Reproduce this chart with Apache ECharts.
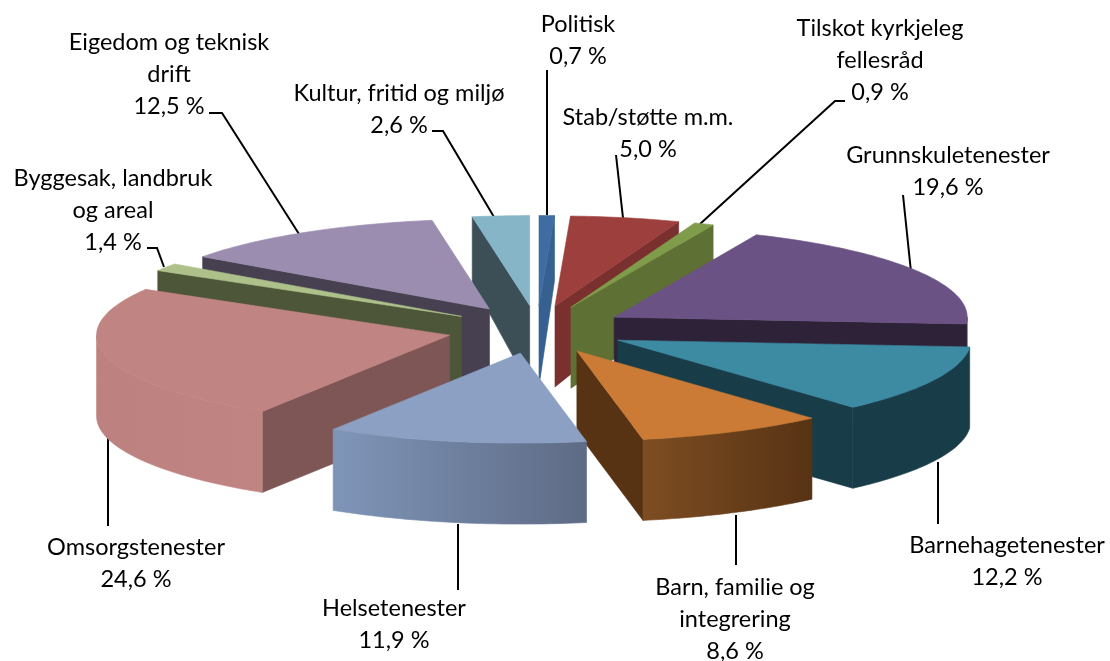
<!DOCTYPE html>
<html><head><meta charset="utf-8">
<style>html,body{margin:0;padding:0;background:#fff}#c{width:1110px;height:661px}</style>
<script src="https://cdn.jsdelivr.net/npm/echarts@6/dist/echarts.min.js"></script>
</head><body><div id="c"></div>
<script>
// Data (clockwise from 12 o'clock)
const categories = ['Politisk','Stab/støtte m.m.','Tilskot kyrkjeleg fellesråd','Grunnskuletenester','Barnehagetenester','Barn, familie og integrering','Helsetenester','Omsorgstenester','Byggesak, landbruk og areal','Eigedom og teknisk drift','Kultur, fritid og miljø'];
const values = [0.7,5.0,0.9,19.6,12.2,8.6,11.9,24.6,1.4,12.5,2.6];
// Painter's order (far slices first)
const drawOrder = [10,0,1,2,3,4,9,8,7,5,6];
// Styling
const topColors  = ['#3f6da3','#9c3f3d','#7f9c4a','#6a5284','#3d8aa3','#cb7b36','#8ba0c3','#c08482','#aec18a','#9b8db0','#85b5c6'];
const cutColors  = ['#35608f','#7a302f','#5f7034','#2d2238','#193d48','#573314','#5d6a85','#7e5655','#4e5639','#464050','#3c4f56'];
const wallLeft   = ['#3f6da3','#7a302f','#5f7034','#2d2238','#193d48','#7e4d22','#7f95b8','#bd8280','#4e5639','#464050','#3c4f56'];
const wallRight  = ['#35608f','#7a302f','#5f7034','#2d2238','#193d48','#573314','#5e6b85','#c08482','#4e5639','#464050','#3c4f56'];
// Label lines: {lines, x, y(centre of first line)}
const labelLayout = [
 {lines:['Politisk'],x:578,y:24},
 {lines:['Stab/støtte m.m.'],x:648,y:117},
 {lines:['Tilskot kyrkjeleg','fellesråd'],x:880,y:28},
 {lines:['Grunnskuletenester'],x:948,y:155},
 {lines:['Barnehagetenester'],x:1007,y:545},
 {lines:['Barn, familie og','integrering'],x:735,y:587},
 {lines:['Helsetenester'],x:394,y:608},
 {lines:['Omsorgstenester'],x:136,y:547},
 {lines:['Byggesak, landbruk','og areal'],x:113,y:178},
 {lines:['Eigedom og teknisk','drift'],x:169,y:42},
 {lines:['Kultur, fritid og miljø'],x:399,y:93}
];
const lineHeight = 32;
const leaders = [
 [[547,70],[547,215]],
 [[616,155],[623,218]],
 [[845,101],[835,101],[700,224]],
 [[903,195],[911,272]],
 [[938,462],[938,524]],
 [[736,515],[736,565]],
 [[458,524],[458,590]],
 [[108,435],[108,526]],
 [[147,248],[157,248],[164,267]],
 [[209,113],[222,113],[299,234]],
 [[432,131],[443,131],[494,217]]
];
// 3D projection of the exploded pie
const cx=537, cy=329.5, rx=353, ry=90, explodeX=90, explodeY=24;
const total = values.reduce((a,b)=>a+b,0);
const angles=[]; let acc=0;
values.forEach(v=>{const a0=acc/total*360; acc+=v; angles.push([a0,acc/total*360]);});
const rad=d=>d*Math.PI/180;
const depth=y=>Math.min(81,65+(y-215)*15/85);
function pt(ap,deg){return [ap[0]+rx*Math.sin(rad(deg)),ap[1]-ry*Math.cos(rad(deg))];}
function down(p){return [p[0],p[1]+depth(p[1])];}
function cutVisible(ap,edge,mid){
  const d=[edge[0]-ap[0],edge[1]-ap[1]],m=[mid[0]-ap[0],mid[1]-ap[1]];
  const c1=d[0]*m[1]-d[1]*m[0], c2=d[0];
  return c1*c2<0;
}
function renderSlice(params,api){
  const i=api.value(0);
  const [a0,a1]=angles[i], midA=(a0+a1)/2;
  const ap=[cx+explodeX*Math.sin(rad(midA)),cy-explodeY*Math.cos(rad(midA))];
  const arc=[]; const n=Math.max(2,Math.ceil(a1-a0));
  for(let k=0;k<=n;k++) arc.push(pt(ap,a0+(a1-a0)*k/n));
  const children=[];
  const s=arc[0],e=arc[n],m=pt(ap,midA);
  [s,e].forEach(q=>{
    if(cutVisible(ap,q,m)) children.push({type:'polygon',shape:{points:[ap,q,down(q),down(ap)]},style:{fill:cutColors[i],stroke:cutColors[i],lineWidth:0.6}});
  });
  const w0=Math.max(a0,90),w1=Math.min(a1,270);
  if(w1>w0){
    const tops=[];const wn=Math.ceil(w1-w0);
    for(let k=0;k<=wn;k++) tops.push(pt(ap,w0+(w1-w0)*k/wn));
    const pts=tops.concat(tops.slice().reverse().map(down));
    const g=new echarts.graphic.LinearGradient(0,0,1,0,[{offset:0,color:wallLeft[i]},{offset:1,color:wallRight[i]}]);
    children.push({type:'polygon',shape:{points:pts},style:{fill:g,stroke:g,lineWidth:0.6}});
  }
  children.push({type:'polygon',shape:{points:[ap].concat(arc)},style:{fill:topColors[i],stroke:topColors[i],lineWidth:0.6}});
  return {type:'group',children};
}
const pctText=v=>v.toFixed(1).replace('.',',')+' %';
const graphics=[];
leaders.forEach(p=>graphics.push({type:'polyline',silent:true,shape:{points:p},style:{stroke:'#000',lineWidth:2,fill:null}}));
labelLayout.forEach((l,i)=>{
  l.lines.concat([pctText(values[i])]).forEach((t,k)=>{
    graphics.push({type:'text',silent:true,x:l.x,y:l.y+k*lineHeight,style:{text:t,fill:'#000',font:'23.5px Lato',align:'center',verticalAlign:'middle'}});
  });
});
const chart=echarts.init(document.getElementById('c'),null,{renderer:'canvas'});
chart.setOption({
  animation:false,
  backgroundColor:'#fff',
  series:[{type:'custom',coordinateSystem:'none',renderItem:renderSlice,silent:true,
    data:drawOrder.map(i=>({name:categories[i],value:[i,values[i]]}))}],
  graphic:{elements:graphics}
});
</script></body></html>
